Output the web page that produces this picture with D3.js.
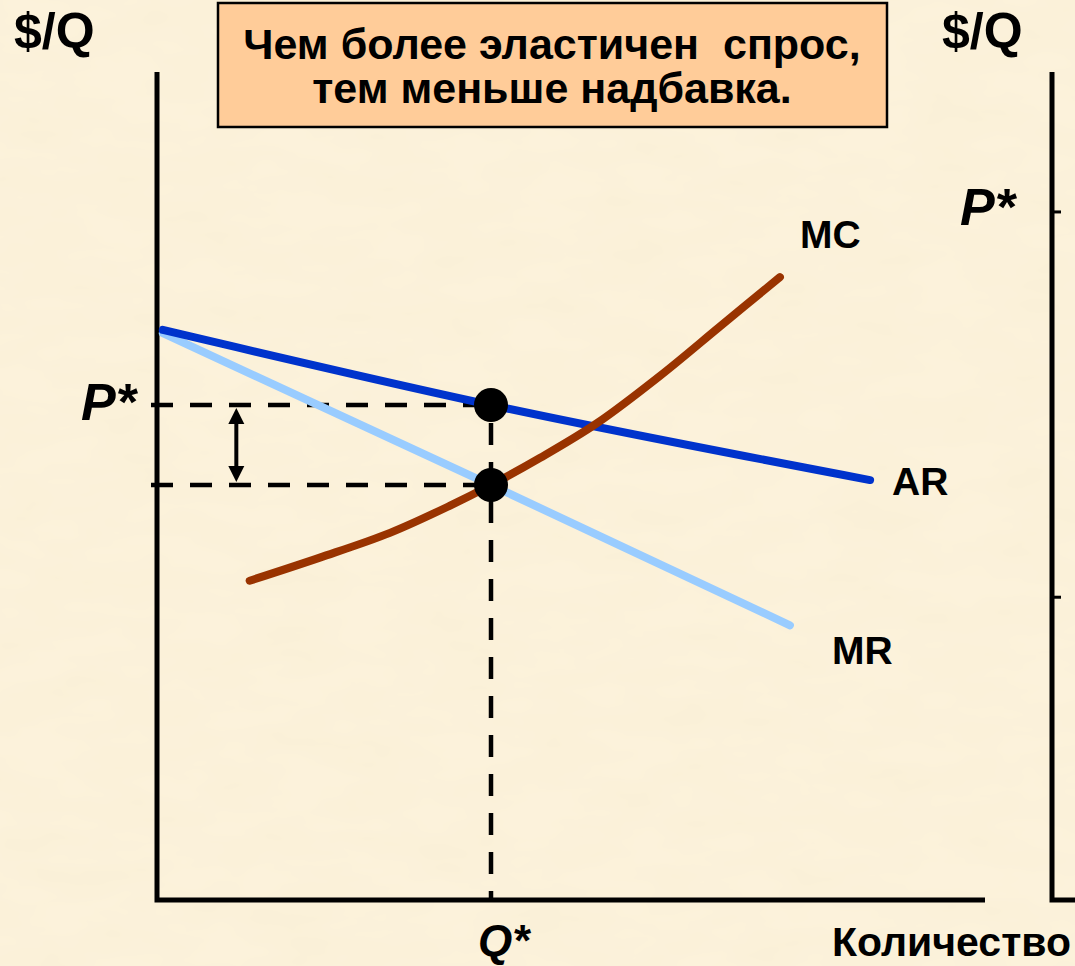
<!DOCTYPE html>
<html>
<head>
<meta charset="utf-8">
<script src="https://cdn.jsdelivr.net/npm/d3@7"></script>
<style>
  html, body { margin: 0; padding: 0; background: #fbf0d8; }
  svg { display: block; }
</style>
</head>
<body>
<div id="chart"></div>
<script>
// ---------------- data (q = quantity, p = $/Q) ----------------
const arQ = [0.07, 4.0, 8.54];
const arP = [6.91, 6.0, 5.09];
const mrQ = [0.07, 4.0, 7.58];
const mrP = [6.87, 5.03, 3.33];
const mcQ = [1.11, 1.95, 2.79, 3.51, 4.0, 4.59, 5.27, 6.02, 6.74, 7.46];
const mcP = [3.87, 4.15, 4.45, 4.78, 5.03, 5.36, 5.78, 6.35, 6.95, 7.55];
const qStar = 4.0;
const pStar = 6.0;
const mcStar = 5.03;
const markupArrowQ = 0.95;
const rightTicks = [8.34, 3.67];
const titleLines = ['Чем более эластичен  спрос,', 'тем меньше надбавка.'];

// ---------------- layout ----------------
const width = 1075;
const height = 966;
const font = 'Liberation Sans, Arial, sans-serif';

const x = d3.scaleLinear().domain([0, 10]).range([157, 992]);
const y = d3.scaleLinear().domain([0, 10]).range([900, 75]);

const svg = d3.select('#chart').append('svg')
  .attr('width', width)
  .attr('height', height);

// parchment background
const defs = svg.append('defs');
const f = defs.append('filter').attr('id', 'paper').attr('x', 0).attr('y', 0).attr('width', 1).attr('height', 1);
f.append('feTurbulence').attr('type', 'fractalNoise').attr('baseFrequency', '0.012 0.03').attr('numOctaves', 3).attr('seed', 4).attr('result', 'n');
f.append('feColorMatrix').attr('in', 'n').attr('type', 'matrix')
  .attr('values', '0 0 0 0 0.86  0 0 0 0 0.78  0 0 0 0 0.55  0 0 0 0.25 -0.07');
svg.append('rect').attr('width', width).attr('height', height).attr('fill', '#fcf2db');
svg.append('rect').attr('width', width).attr('height', height).attr('filter', 'url(#paper)');

// ---------------- title box ----------------
svg.append('rect')
  .attr('x', 218).attr('y', 3)
  .attr('width', 669).attr('height', 124)
  .attr('fill', '#ffcc99')
  .attr('stroke', '#000')
  .attr('stroke-width', 2.5);
svg.append('g').selectAll('text')
  .data(titleLines)
  .join('text')
  .attr('x', 552)
  .attr('y', (d, i) => 59 + i * 44)
  .attr('text-anchor', 'middle')
  .attr('font-family', font)
  .attr('font-weight', 'bold')
  .attr('font-size', '43px')
  .attr('fill', '#000')
  .style('white-space', 'pre')
  .text(d => d);

// ---------------- axes ----------------
const axes = svg.append('g').attr('stroke', '#000').attr('stroke-width', 5).attr('fill', 'none');
axes.append('path').attr('d', `M${x(0)},${72} V${y(0)} H985`);
// right, cut-off panel
axes.append('path').attr('d', `M1052,72 V${y(0)} H1075`);
axes.selectAll('.rtick')
  .data(rightTicks)
  .join('line')
  .attr('x1', 1052).attr('x2', 1061)
  .attr('y1', d => y(d)).attr('y2', d => y(d))
  .attr('stroke-width', 3);
axes.selectAll('.ltick')
  .data([pStar, mcStar])
  .join('line')
  .attr('x1', x(0)).attr('x2', x(0) + 8)
  .attr('y1', d => y(d)).attr('y2', d => y(d))
  .attr('stroke-width', 3);

// ---------------- dashed guides ----------------
const guides = svg.append('g').attr('stroke', '#000').attr('stroke-width', 4.5).attr('stroke-dasharray', '22 17');
guides.selectAll('line.h')
  .data([pStar, mcStar])
  .join('line')
  .attr('x1', x(0) - 6).attr('x2', x(qStar))
  .attr('y1', d => y(d)).attr('y2', d => y(d));
guides.append('line')
  .attr('x1', x(qStar)).attr('x2', x(qStar))
  .attr('y1', y(pStar)).attr('y2', y(0))
  .attr('stroke-dashoffset', 21);

// ---------------- curves ----------------
const line = d3.line().x(d => x(d[0])).y(d => y(d[1]));
const curves = [
  { q: mrQ, p: mrP, color: '#99ccff', curve: d3.curveLinear },
  { q: arQ, p: arP, color: '#0033cc', curve: d3.curveMonotoneX },
  { q: mcQ, p: mcP, color: '#993300', curve: d3.curveCatmullRom },
];
svg.append('g').selectAll('path')
  .data(curves)
  .join('path')
  .attr('d', c => line.curve(c.curve)(c.q.map((q, i) => [q, c.p[i]])))
  .attr('fill', 'none')
  .attr('stroke', c => c.color)
  .attr('stroke-width', 8)
  .attr('stroke-linecap', 'round')
  .attr('stroke-linejoin', 'round');

// equilibrium dots
svg.append('g').selectAll('circle')
  .data([pStar, mcStar])
  .join('circle')
  .attr('cx', x(qStar))
  .attr('cy', d => y(d))
  .attr('r', 17)
  .attr('fill', '#000');

// markup arrow
const ax = x(markupArrowQ);
const arrowTop = y(pStar) + 3;
const arrowBot = y(mcStar) - 3;
const arrow = svg.append('g').attr('fill', '#000');
arrow.append('line')
  .attr('x1', ax).attr('x2', ax)
  .attr('y1', arrowTop + 10).attr('y2', arrowBot - 10)
  .attr('stroke', '#000').attr('stroke-width', 4);
arrow.append('path').attr('d', `M${ax},${arrowTop} L${ax - 8},${arrowTop + 16} L${ax + 8},${arrowTop + 16} Z`);
arrow.append('path').attr('d', `M${ax},${arrowBot} L${ax - 8},${arrowBot - 16} L${ax + 8},${arrowBot - 16} Z`);

// ---------------- labels ----------------
const labels = [
  { t: '$/Q', x: 14, y: 48, size: 50, italic: false },
  { t: '$/Q', x: 942, y: 48, size: 50, italic: false },
  { t: 'P*', x: 81, y: y(pStar) + 15, size: 52, italic: true },
  { t: 'P*', x: 960, y: y(rightTicks[0]) + 13, size: 52, italic: true },
  { t: 'MC', x: x(mcQ[mcQ.length - 1]) + 20, y: 248, size: 39, italic: false },
  { t: 'AR', x: x(arQ[arQ.length - 1]) + 22, y: 495, size: 39, italic: false },
  { t: 'MR', x: x(mrQ[mrQ.length - 1]) + 42, y: 664, size: 39, italic: false },
  { t: 'Q*', x: x(qStar) - 13, y: 956, size: 44, italic: true },
  { t: 'Количество', x: 832, y: 956, size: 41, italic: false },
];
svg.append('g').selectAll('text')
  .data(labels)
  .join('text')
  .attr('x', d => d.x)
  .attr('y', d => d.y)
  .attr('font-family', font)
  .attr('font-weight', 'bold')
  .attr('font-style', d => d.italic ? 'italic' : 'normal')
  .attr('font-size', d => d.size + 'px')
  .attr('fill', '#000')
  .text(d => d.t);
</script>
</body>
</html>
